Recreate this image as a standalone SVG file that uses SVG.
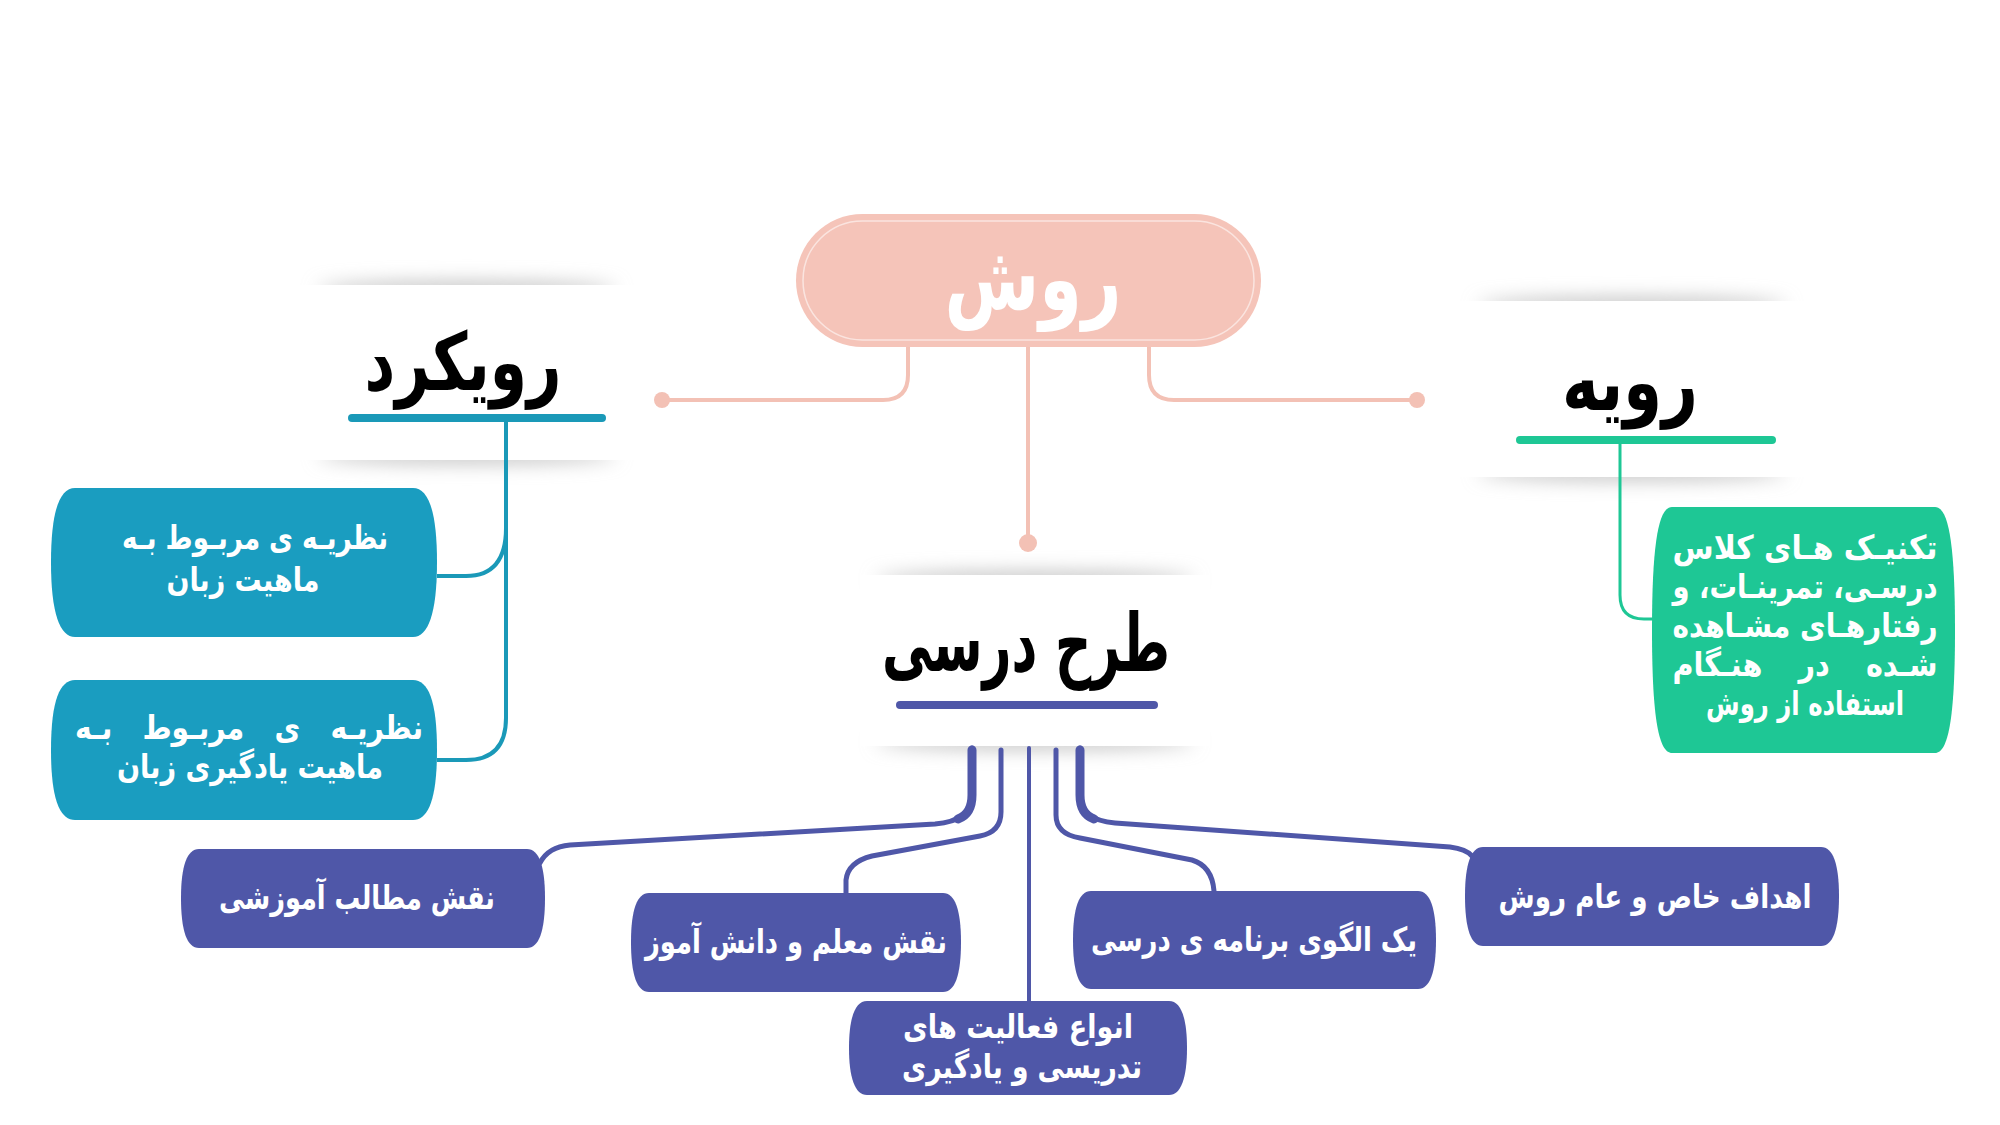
<svg xmlns="http://www.w3.org/2000/svg" width="2000" height="1125" viewBox="0 0 2000 1125">
<defs>
<filter id="blur" x="-20%" y="-300%" width="140%" height="700%"><feGaussianBlur stdDeviation="9"/></filter>
<style>
text{font-family:'DejaVu Sans',sans-serif;font-weight:bold;direction:rtl;text-anchor:middle}
.title{font-size:80px;fill:#000}
.lbl{font-size:33px;fill:#fff}
.pk{stroke:#f3c1b5;stroke-width:4;fill:none}
.tl{stroke:#1a99b8;stroke-width:4;fill:none}
.gr{stroke:#1ec795;stroke-width:3;fill:none}
.pu{stroke:#4f57a8;fill:none;stroke-linecap:round;stroke-linejoin:round}
.sh{fill:#c4c4c4;filter:url(#blur)}
.card{fill:#fff}
</style>
</defs>
<rect width="2000" height="1125" fill="#fff"/>

<g id="card-approach">
<ellipse class="sh" cx="467" cy="289" rx="150" ry="8"/>
<ellipse class="sh" cx="467" cy="456" rx="150" ry="8"/>
<rect class="card" x="300" y="285" width="335" height="175"/>
</g>
<g id="card-procedure">
<ellipse class="sh" cx="1632" cy="305" rx="155" ry="8"/>
<ellipse class="sh" cx="1632" cy="473" rx="155" ry="8"/>
<rect class="card" x="1460" y="301" width="345" height="176"/>
</g>
<g id="card-design">
<ellipse class="sh" cx="1035" cy="579" rx="160" ry="8"/>
<ellipse class="sh" cx="1035" cy="742" rx="160" ry="8"/>
<rect class="card" x="860" y="575" width="350" height="171"/>
</g>

<g id="connectors">
<path class="pk" d="M908 347 V375 Q908 400 883 400 H662"/>
<circle cx="662" cy="400" r="8" fill="#f3c1b5"/>
<path class="pk" d="M1149 347 V375 Q1149 400 1174 400 H1417"/>
<circle cx="1417" cy="400" r="8" fill="#f3c1b5"/>
<path class="pk" d="M1028 347 V543"/>
<circle cx="1028" cy="543" r="9" fill="#f3c1b5"/>

<path class="tl" d="M506 418 V718 Q506 760 466 760 H437"/>
<path class="tl" d="M506 528 Q506 576 466 576 H437"/>

<path class="gr" d="M1620 440 V595 Q1620 619 1644 619 H1656"/>

<path class="pu" stroke-width="5" d="M972 748 V795 Q972 821 935 824 L570 845 Q548 847 540 863"/>
<path class="pu" stroke-width="9" d="M972 750 V795 Q972 814 958 819"/>
<path class="pu" stroke-width="5" d="M1001 750 V812 Q1001 832 980 836 L872 856 Q848 862 846 880 V893"/>
<path class="pu" stroke-width="4" d="M1029 748 V1002"/>
<path class="pu" stroke-width="5" d="M1056 750 V815 Q1056 834 1080 838 L1192 860 Q1212 866 1214 891"/>
<path class="pu" stroke-width="5" d="M1080 748 V795 Q1080 820 1115 823 L1450 847 Q1466 849 1472 856"/>
<path class="pu" stroke-width="9" d="M1080 750 V795 Q1080 814 1094 819"/>
</g>

<g id="node-method">
<rect x="796" y="214" width="465" height="133" rx="66.5" fill="#f5c4b9"/>
<rect x="803" y="221" width="451" height="119" rx="59.5" fill="none" stroke="#fff" stroke-opacity="0.55" stroke-width="1.5"/>
<text x="1033" y="310" style="font-size:90px;fill:#fff" textLength="177" lengthAdjust="spacingAndGlyphs">روش</text>
</g>

<g id="node-approach">
<text class="title" x="463" y="390" textLength="197" lengthAdjust="spacingAndGlyphs">رویکرد</text>
<line x1="352" y1="418" x2="602" y2="418" stroke="#1a99b8" stroke-width="8" stroke-linecap="round"/>
</g>

<g id="node-procedure">
<text class="title" x="1630" y="410" textLength="136" lengthAdjust="spacingAndGlyphs">رویه</text>
<line x1="1520" y1="440" x2="1772" y2="440" stroke="#1ec795" stroke-width="8" stroke-linecap="round"/>
</g>

<g id="node-design">
<text class="title" x="1026" y="671" textLength="288" lengthAdjust="spacingAndGlyphs">طرح درسی</text>
<line x1="900" y1="705" x2="1154" y2="705" stroke="#4f57a8" stroke-width="8" stroke-linecap="round"/>
</g>

<g id="node-theory-language">
<path fill="#1a9dc0" d="M75 488 H413 C428 488 437 510 437 562 C437 614 428 637 413 637 H75 C60 637 51 614 51 562 C51 510 60 488 75 488 Z"/>
<text class="lbl" x="255" y="549" textLength="266" lengthAdjust="spacingAndGlyphs">نظریـه ی مربـوط بـه</text>
<text class="lbl" x="243" y="591" textLength="153" lengthAdjust="spacingAndGlyphs">ماهیت زبان</text>
</g>

<g id="node-theory-learning">
<path fill="#1a9dc0" d="M75 680 H413 C428 680 437 700 437 750 C437 800 428 820 413 820 H75 C60 820 51 800 51 750 C51 700 60 680 75 680 Z"/>
<text class="lbl" x="249" y="739" word-spacing="24" textLength="348" lengthAdjust="spacingAndGlyphs">نظریـه ی مربـوط بـه</text>
<text class="lbl" x="250" y="778" textLength="266" lengthAdjust="spacingAndGlyphs">ماهیت یادگیری زبان</text>
</g>

<g id="node-techniques">
<path fill="#1ec795" d="M1672 507 H1935 C1948 507 1955 540 1955 630 C1955 720 1948 753 1935 753 H1672 C1659 753 1652 720 1652 630 C1652 540 1659 507 1672 507 Z"/>
<text class="lbl" x="1805" y="559" textLength="265" lengthAdjust="spacingAndGlyphs">تکنیـک هـای کلاس</text>
<text class="lbl" x="1805" y="598" textLength="265" lengthAdjust="spacingAndGlyphs">درسـی، تمرینـات، و</text>
<text class="lbl" x="1805" y="637" textLength="265" lengthAdjust="spacingAndGlyphs">رفتارهـای مشـاهده</text>
<text class="lbl" x="1805" y="676" word-spacing="30" textLength="265" lengthAdjust="spacingAndGlyphs">شـده در هنـگام</text>
<text class="lbl" x="1805" y="715" textLength="198" lengthAdjust="spacingAndGlyphs">استفاده از روش</text>
</g>

<g id="node-materials">
<path fill="#4f57a8" d="M199 849 H527 C539 849 545 866 545 898 C545 931 539 948 527 948 H199 C187 948 181 931 181 898 C181 866 187 849 199 849 Z"/>
<text class="lbl" x="357" y="909" textLength="276" lengthAdjust="spacingAndGlyphs">نقش مطالب آموزشی</text>
</g>

<g id="node-roles">
<path fill="#4f57a8" d="M649 893 H943 C955 893 961 910 961 942 C961 975 955 992 943 992 H649 C637 992 631 975 631 942 C631 910 637 893 649 893 Z"/>
<text class="lbl" x="796" y="953" textLength="302" lengthAdjust="spacingAndGlyphs">نقش معلم و دانش آموز</text>
</g>

<g id="node-activities">
<path fill="#4f57a8" d="M867 1001 H1169 C1181 1001 1187 1018 1187 1048 C1187 1078 1181 1095 1169 1095 H867 C855 1095 849 1078 849 1048 C849 1018 855 1001 867 1001 Z"/>
<text class="lbl" x="1018" y="1038" textLength="230" lengthAdjust="spacingAndGlyphs">انواع فعالیت های</text>
<text class="lbl" x="1022" y="1078" textLength="240" lengthAdjust="spacingAndGlyphs">تدریسی و یادگیری</text>
</g>

<g id="node-syllabus">
<path fill="#4f57a8" d="M1091 891 H1418 C1430 891 1436 908 1436 940 C1436 972 1430 989 1418 989 H1091 C1079 989 1073 972 1073 940 C1073 908 1079 891 1091 891 Z"/>
<text class="lbl" x="1254" y="951" textLength="326" lengthAdjust="spacingAndGlyphs">یک الگوی برنامه ی درسی</text>
</g>

<g id="node-objectives">
<path fill="#4f57a8" d="M1483 847 H1821 C1833 847 1839 864 1839 896 C1839 929 1833 946 1821 946 H1483 C1471 946 1465 929 1465 896 C1465 864 1471 847 1483 847 Z"/>
<text class="lbl" x="1655" y="908" textLength="313" lengthAdjust="spacingAndGlyphs">اهداف خاص و عام روش</text>
</g>
</svg>
